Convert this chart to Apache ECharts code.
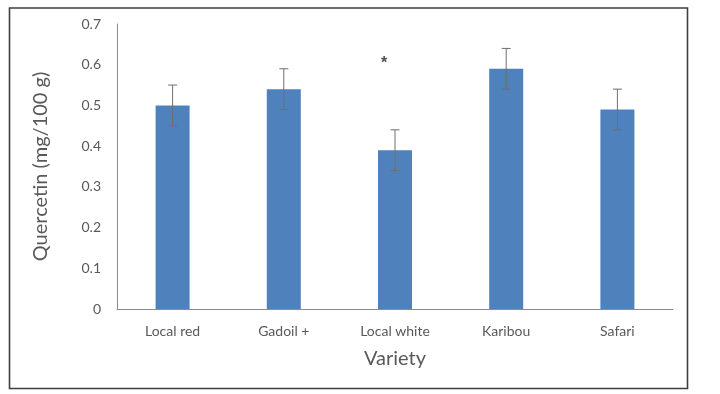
<!DOCTYPE html>
<html>
<head>
<meta charset="utf-8">
<script src="https://cdn.jsdelivr.net/npm/echarts@6/dist/echarts.min.js"></script>
<style>html,body{margin:0;padding:0;background:#fff;}#c{width:720px;height:394px;}</style>
</head>
<body>
<div id="c"></div>
<script>
var categories = ['Local red', 'Gadoil +', 'Local white', 'Karibou', 'Safari'];
var values = [0.50, 0.54, 0.39, 0.59, 0.49];
var errors = [0.05, 0.05, 0.05, 0.05, 0.05];
var yTicks = [0, 0.1, 0.2, 0.3, 0.4, 0.5, 0.6, 0.7];
var marks = [['Local white', 0.61, '*']];

var chart = echarts.init(document.getElementById('c'), null, {renderer: 'canvas'});
var font = 'Lato, "Open Sans", sans-serif';
var errData = categories.map(function (c, i) { return [i, values[i] - errors[i], values[i] + errors[i]]; });

chart.setOption({
  animation: false,
  backgroundColor: '#fff',
  graphic: [{
    type: 'rect',
    shape: {x: 9.5, y: 8, width: 678, height: 380.5},
    style: {fill: 'none', stroke: '#3f3f3f', lineWidth: 1.6},
    silent: true
  }],
  grid: {left: 117, right: 47, top: 24, bottom: 85},
  xAxis: {
    type: 'category',
    data: categories,
    name: 'Variety',
    nameLocation: 'middle',
    nameGap: 40,
    nameTextStyle: {fontFamily: font, fontSize: 20, color: '#595959'},
    axisLine: {lineStyle: {color: '#8c8c8c', width: 1}},
    axisTick: {show: false},
    axisLabel: {fontFamily: font, fontSize: 14, color: '#595959', margin: 15}
  },
  yAxis: {
    type: 'value',
    min: yTicks[0],
    max: yTicks[yTicks.length - 1],
    interval: 0.1,
    name: 'Quercetin (mg/100 g)',
    nameLocation: 'middle',
    nameGap: 66,
    nameTextStyle: {fontFamily: font, fontSize: 20, color: '#595959'},
    axisLine: {show: true, lineStyle: {color: '#8c8c8c', width: 1}},
    axisTick: {show: false},
    splitLine: {show: false},
    axisLabel: {fontFamily: font, fontSize: 14, color: '#595959', margin: 16,
      formatter: function (v) { return String(Math.round(v * 10) / 10); }}
  },
  series: [
    {
      type: 'bar',
      data: values,
      barWidth: 34,
      itemStyle: {color: '#4f81bd'},
      z: 2
    },
    {
      type: 'custom',
      data: errData,
      z: 3,
      renderItem: function (params, api) {
        var x = api.value(0);
        var lo = api.coord([x, api.value(1)]);
        var hi = api.coord([x, api.value(2)]);
        var cap = 4.5;
        var st = {stroke: '#6f6f6f', lineWidth: 1};
        return {
          type: 'group',
          children: [
            {type: 'line', shape: {x1: lo[0], y1: lo[1], x2: hi[0], y2: hi[1]}, style: st},
            {type: 'line', shape: {x1: lo[0] - cap, y1: lo[1], x2: lo[0] + cap, y2: lo[1]}, style: st},
            {type: 'line', shape: {x1: hi[0] - cap, y1: hi[1], x2: hi[0] + cap, y2: hi[1]}, style: st}
          ]
        };
      }
    },
    {
      type: 'scatter',
      data: marks.map(function (m) { return [m[0], m[1], m[2]]; }),
      symbolSize: 0,
      z: 4,
      label: {
        show: true,
        position: 'inside',
        offset: [-11, 3],
        formatter: function (p) { return p.value[2]; },
        fontFamily: 'Liberation Sans, sans-serif',
        fontSize: 16,
        fontWeight: 'bold',
        color: '#222'
      }
    }
  ]
});
</script>
</body>
</html>
